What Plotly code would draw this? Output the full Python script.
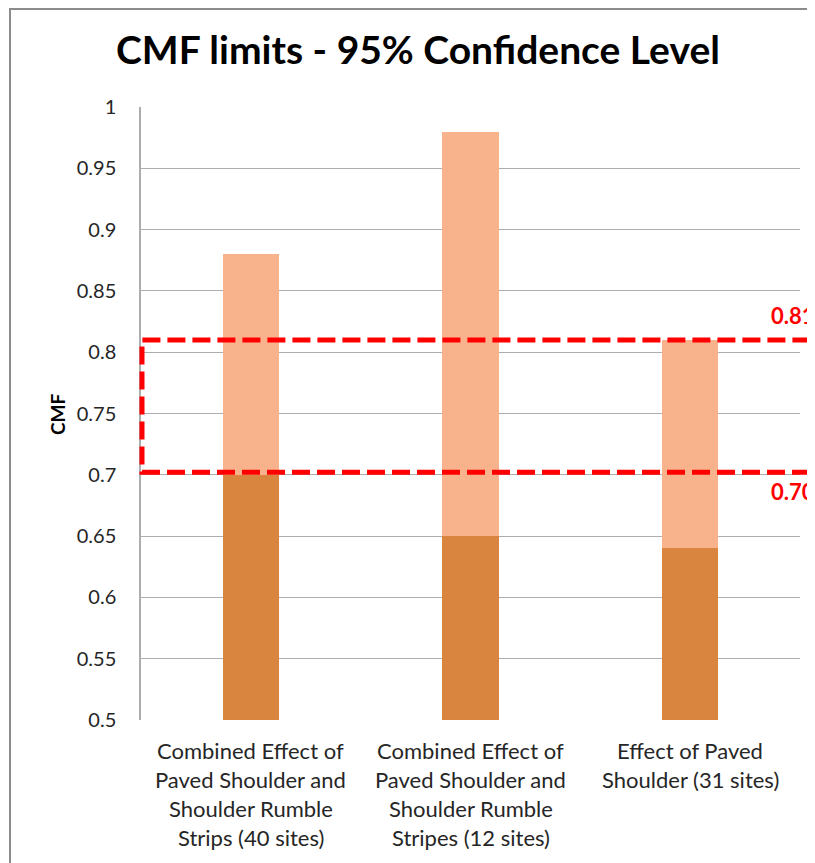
import plotly.graph_objects as go

categories = [
    "Combined Effect of Paved Shoulder and Shoulder Rumble Strips (40 sites)",
    "Combined Effect of Paved Shoulder and Shoulder Rumble Stripes (12 sites)",
    "Effect of Paved Shoulder (31 sites)",
]
category_lines = [
    ["Combined Effect of", "Paved Shoulder and", "Shoulder Rumble", "Strips (40 sites)"],
    ["Combined Effect of", "Paved Shoulder and", "Shoulder Rumble", "Stripes (12 sites)"],
    ["Effect of Paved", "Shoulder (31 sites)"],
]
lower_limit = [0.70, 0.65, 0.64]
upper_limit = [0.88, 0.98, 0.81]
band_low = 0.70
band_high = 0.81
y_ticks = [0.5, 0.55, 0.6, 0.65, 0.7, 0.75, 0.8, 0.85, 0.9, 0.95, 1]
y_tick_text = ["0.5", "0.55", "0.6", "0.65", "0.7", "0.75", "0.8", "0.85", "0.9", "0.95", "1"]

FONT = "Lato, Liberation Sans, sans-serif"
RED = "#FF0000"

W, H = 815, 863
OFF = 8  # page body margin
L, T = 133, 99
R = W - 792
B = H - 712
pw = W - L - R
ph = H - T - B

def sx(p):  # screen x -> paper
    return (p - OFF - L) / pw

def sy(p):  # screen y -> paper
    return (H - B - (p - OFF)) / ph

fig = go.Figure()
fig.add_trace(go.Bar(x=categories, y=lower_limit, marker=dict(color="#D9843F", line=dict(width=0)),
                     showlegend=False, hoverinfo="y"))
fig.add_trace(go.Bar(x=categories, y=[u - l for u, l in zip(upper_limit, lower_limit)],
                     marker=dict(color="#F8B38C", line=dict(width=0)), showlegend=False,
                     customdata=upper_limit, hovertemplate="%{customdata}<extra></extra>"))

# outer frame (cropped chart border)
fig.add_shape(type="line", xref="paper", yref="paper", x0=sx(10), x1=sx(10), y0=sy(9), y1=sy(900),
              line=dict(color="#8C8C8C", width=2))
fig.add_shape(type="line", xref="paper", yref="paper", x0=sx(9), x1=sx(840), y0=sy(9), y1=sy(9),
              line=dict(color="#8C8C8C", width=2))

# dashed band rectangle
fig.add_shape(type="rect", xref="paper", yref="y", x0=sx(142), x1=sx(860), y0=band_low + 0.002, y1=band_high,
              line=dict(color=RED, width=5, dash="18px,7px"), fillcolor="rgba(0,0,0,0)", layer="above")

fig.add_annotation(text="<b>%.2f</b>" % band_high, xref="paper", yref="y", x=sx(769), y=band_high,
                   xanchor="left", yanchor="middle", yshift=24, showarrow=False,
                   font=dict(family=FONT, size=22, color=RED))
fig.add_annotation(text="<b>%.2f</b>" % band_low, xref="paper", yref="y", x=sx(769), y=band_low,
                   xanchor="left", yanchor="middle", yshift=-17, showarrow=False,
                   font=dict(family=FONT, size=22, color=RED))

# y-axis title
fig.add_annotation(text="<b>CMF</b>", xref="paper", yref="paper", x=sx(57), y=sy(414),
                   xanchor="center", yanchor="middle", textangle=-90, showarrow=False,
                   font=dict(family=FONT, size=19, color="black"))

# category labels (wrapped, Excel-like line spacing)
for cat, lines in zip(categories, category_lines):
    for i, line in enumerate(lines):
        fig.add_annotation(text=line, xref="x", yref="paper", x=cat, y=0, xanchor="center",
                           yanchor="middle", yshift=-(30 + 29 * i), showarrow=False,
                           font=dict(family=FONT, size=22, color="#262626"))

fig.update_layout(
    width=W, height=H,
    margin=dict(l=L, r=R, t=T, b=B),
    paper_bgcolor="white", plot_bgcolor="white",
    barmode="stack", bargap=0.745,
    title=dict(text="<b>CMF limits - 95% Confidence Level</b>", x=(418 - OFF) / W,
               xanchor="center", y=1 - (50 - OFF) / H, yanchor="middle",
               font=dict(family=FONT, size=39, color="black")),
    font=dict(family=FONT, size=19, color="#222222"),
)
fig.update_yaxes(range=[0.5, 1], tickvals=y_ticks, ticktext=y_tick_text,
                 showgrid=True, gridcolor="#ADADAD", gridwidth=1,
                 showline=True, linecolor="#ADADAD", linewidth=1.5,
                 ticks="", zeroline=False, ticklabelstandoff=19,
                 tickfont=dict(family=FONT, size=20, color="#262626"))
fig.update_xaxes(showline=False, showgrid=False, ticks="", showticklabels=False)

fig.write_html("out.html")
